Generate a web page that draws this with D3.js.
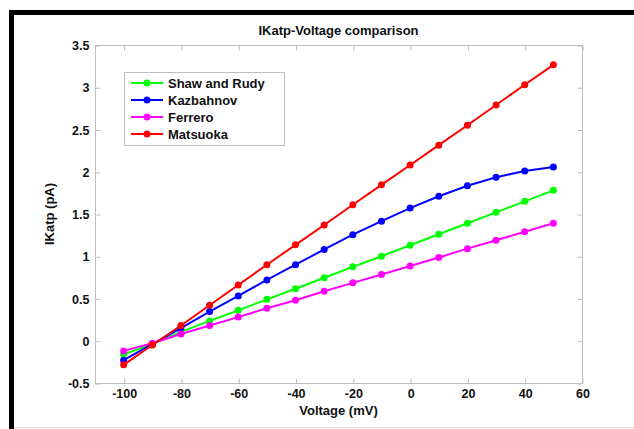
<!DOCTYPE html>
<html>
<head>
<meta charset="utf-8">
<script src="https://cdn.jsdelivr.net/npm/d3@7"></script>
<style>
  body { margin: 0; background: #fff; }
  svg text { font-family: "Liberation Sans", Arial, sans-serif; font-weight: bold; fill: #111; }
</style>
</head>
<body>
<div id="chart"></div>
<script>
// data
var voltages = [-100, -90, -80, -70, -60, -50, -40, -30, -20, -10, 0, 10, 20, 30, 40, 50]
var shawRudy = [-0.16, -0.04, 0.105, 0.235, 0.36, 0.49, 0.615, 0.745, 0.875, 1.0, 1.13, 1.26, 1.39, 1.52, 1.65, 1.78]
var kazbahnov = [-0.23, -0.04, 0.15, 0.345, 0.53, 0.72, 0.90, 1.08, 1.255, 1.415, 1.57, 1.71, 1.835, 1.935, 2.01, 2.055]
var ferrero = [-0.12, -0.03, 0.08, 0.18, 0.28, 0.385, 0.48, 0.585, 0.685, 0.785, 0.885, 0.985, 1.09, 1.19, 1.29, 1.39]
var matsuoka = [-0.285, -0.05, 0.18, 0.42, 0.66, 0.90, 1.135, 1.37, 1.61, 1.845, 2.08, 2.315, 2.55, 2.79, 3.03, 3.265]
var seriesNames = ["Shaw and Rudy", "Kazbahnov", "Ferrero", "Matsuoka"]
var xTicks = [-100, -80, -60, -40, -20, 0, 20, 40, 60]
var yTicks = [-0.5, 0, 0.5, 1, 1.5, 2, 2.5, 3, 3.5]

var width = 634, height = 429
var margin = {top: 45, right: 52, bottom: 46, left: 95}
var colors = ["#00ff00", "#0000ff", "#ff00ff", "#ff0000"]
var series = [shawRudy, kazbahnov, ferrero, matsuoka]

var svg = d3.select("#chart")
  .append("svg")
  .attr("width", width)
  .attr("height", height)

// outer figure frame
svg.append("path")
  .attr("d", "M11.5," + height + " L11.5,12.5 L" + width + ",12.5")
  .attr("fill", "none")
  .style("stroke", "#000")
  .style("stroke-width", 5)
svg.append("line")
  .attr("x1", 14).attr("x2", width)
  .attr("y1", 427.5).attr("y2", 427.5)
  .style("stroke", "#ddd")

var xScale = d3.scaleLinear()
  .domain([-110, 60])
  .range([margin.left, width - margin.right])

var yScale = d3.scaleLinear()
  .domain([-0.5, 3.5])
  .range([height - margin.bottom, margin.top])

var axisColor = "#bdbdbd"

// axes box
svg.append("rect")
  .attr("x", margin.left + 0.5)
  .attr("y", margin.top + 0.5)
  .attr("width", xScale(60) - margin.left)
  .attr("height", yScale(-0.5) - margin.top)
  .attr("fill", "none")
  .style("stroke", axisColor)

// inner ticks, all four sides
var xAxisB = d3.axisBottom(xScale).tickValues(xTicks).tickSize(-5).tickFormat(d => d)
var xAxisT = d3.axisTop(xScale).tickValues(xTicks).tickSize(-5).tickFormat("")
var yAxisL = d3.axisLeft(yScale).tickValues(yTicks).tickSize(-5).tickFormat(d => d)
var yAxisR = d3.axisRight(yScale).tickValues(yTicks).tickSize(-5).tickFormat("")

function styleAxis(g) {
  g.select(".domain").remove()
  g.selectAll(".tick line").style("stroke", axisColor)
  g.selectAll(".tick text").style("font-size", "12.5px").attr("fill", "#111")
}

svg.append("g")
  .attr("transform", `translate(0.5,${height - margin.bottom + 0.5})`)
  .call(xAxisB)
  .call(styleAxis)
  .selectAll(".tick text")
  .attr("y", 6)

svg.append("g")
  .attr("transform", `translate(0.5,${margin.top + 0.5})`)
  .call(xAxisT)
  .call(styleAxis)

svg.append("g")
  .attr("transform", `translate(${margin.left + 0.5},0.5)`)
  .call(yAxisL)
  .call(styleAxis)
  .selectAll(".tick text")
  .attr("x", -6)

svg.append("g")
  .attr("transform", `translate(${xScale(60) + 0.5},0.5)`)
  .call(yAxisR)
  .call(styleAxis)

// title and axis labels
svg.append("text")
  .text("IKatp-Voltage comparison")
  .attr("x", (margin.left + xScale(60)) / 2)
  .attr("y", 35)
  .attr("text-anchor", "middle")
  .style("font-size", "13px")

svg.append("text")
  .text("Voltage (mV)")
  .attr("x", (margin.left + xScale(60)) / 2)
  .attr("y", 415)
  .attr("text-anchor", "middle")
  .style("font-size", "13px")

svg.append("text")
  .text("IKatp (pA)")
  .attr("transform", `translate(54,${(yScale(3.5) + yScale(-0.5)) / 2}) rotate(-90)`)
  .attr("text-anchor", "middle")
  .style("font-size", "13px")

// lines and markers
var line = d3.line()
  .x((d, i) => xScale(voltages[i]))
  .y(d => yScale(d))

var linesG = svg.append("g").attr("class", "lines")

series.forEach(function(vals, k) {
  linesG.append("path")
    .datum(vals)
    .attr("d", line)
    .attr("fill", "none")
    .style("stroke", colors[k])
    .style("stroke-width", 2)

  linesG.selectAll(".dot-" + k)
    .data(vals)
    .enter()
    .append("circle")
    .attr("class", "dot-" + k)
    .attr("cx", (d, i) => xScale(voltages[i]))
    .attr("cy", d => yScale(d))
    .attr("r", 3.5)
    .style("fill", colors[k])
})

// legend
var legend = svg.append("g").attr("class", "legend")

legend.append("rect")
  .attr("x", 124.5)
  .attr("y", 72.5)
  .attr("width", 160)
  .attr("height", 73)
  .attr("fill", "#fff")
  .style("stroke", axisColor)

seriesNames.forEach(function(name, k) {
  var ly = 83 + k * 17
  legend.append("line")
    .attr("x1", 131).attr("x2", 163)
    .attr("y1", ly).attr("y2", ly)
    .style("stroke", colors[k])
    .style("stroke-width", 2)
  legend.append("circle")
    .attr("cx", 147).attr("cy", ly)
    .attr("r", 3.5)
    .style("fill", colors[k])
  legend.append("text")
    .text(name)
    .attr("x", 168)
    .attr("y", ly + 4.5)
    .style("font-size", "13px")
})
</script>
</body>
</html>
